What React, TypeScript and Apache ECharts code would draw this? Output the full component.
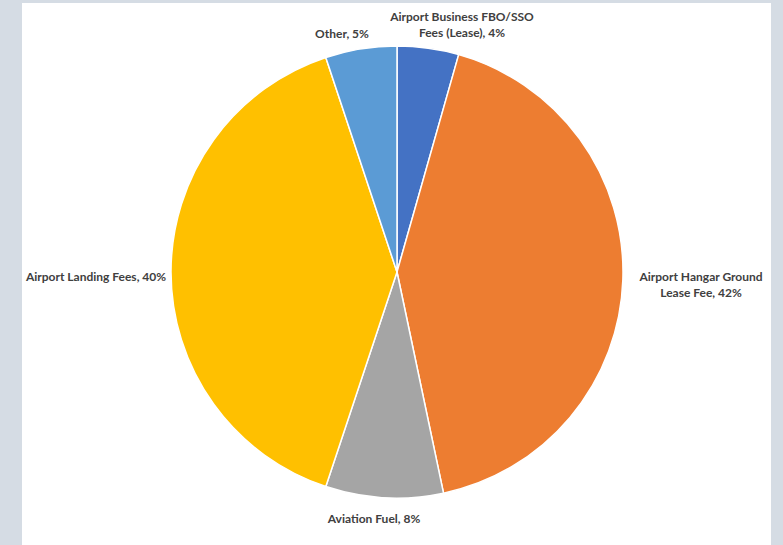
import React, { useEffect, useRef } from "react";
import * as echarts from "echarts";

const categories = [
  "Airport Business FBO/SSO Fees (Lease)",
  "Airport Hangar Ground Lease Fee",
  "Aviation Fuel",
  "Airport Landing Fees",
  "Other",
];
const labelLines = [
  "Airport Business FBO/SSO\nFees (Lease)",
  "Airport Hangar Ground\nLease Fee",
  "Aviation Fuel",
  "Airport Landing Fees",
  "Other",
];
const values = [4.4, 42.3, 8.4, 39.8, 5.1];
const colors = ["#4472C4", "#ED7D31", "#A5A5A5", "#FFC000", "#5B9BD5"];
// label centers (chart-local px)
const labelPos: [number, number][] = [
  [440, 21],
  [679, 281],
  [352, 515],
  [74, 273],
  [320, 30],
];

export default function App() {
  const ref = useRef<HTMLDivElement>(null);
  useEffect(() => {
    if (!ref.current) return;
    const chart = echarts.init(ref.current, undefined, { renderer: "svg" });
    const total = values.reduce((a, b) => a + b, 0);
    chart.setOption({
      animation: false,
      backgroundColor: "#ffffff",
      series: [
        {
          type: "pie",
          center: [375, 269],
          radius: [0, 226],
          startAngle: 90,
          clockwise: true,
          data: categories.map((c, i) => ({
            name: c,
            value: values[i],
            itemStyle: { color: colors[i] },
          })),
          itemStyle: { borderColor: "#ffffff", borderWidth: 1.5 },
          label: {
            show: true,
            position: "outside",
            formatter: (p: any) =>
              `${labelLines[p.dataIndex]}, ${Math.round((p.value / total) * 100)}%`,
            color: "#404040",
            fontWeight: "bold",
            fontSize: 12,
            fontFamily: "Lato",
            lineHeight: 16,
            align: "center",
            overflow: "none",
            width: 300,
          },
          labelLine: { show: false },
          labelLayout: (params: any) => ({
            x: labelPos[params.dataIndex][0],
            y: labelPos[params.dataIndex][1],
            align: "center",
            verticalAlign: "middle",
            hideOverlap: false,
          }),
          emphasis: { disabled: true },
        },
      ],
    });
    return () => chart.dispose();
  }, []);
  return (
    <div
      style={{
        position: "fixed",
        left: 0,
        top: 0,
        width: 783,
        height: 545,
        background: "#D5DCE4",
      }}
    >
      <div
        ref={ref}
        style={{
          position: "absolute",
          left: 22,
          top: 3,
          width: 749,
          height: 542,
          background: "#ffffff",
        }}
      />
    </div>
  );
}
